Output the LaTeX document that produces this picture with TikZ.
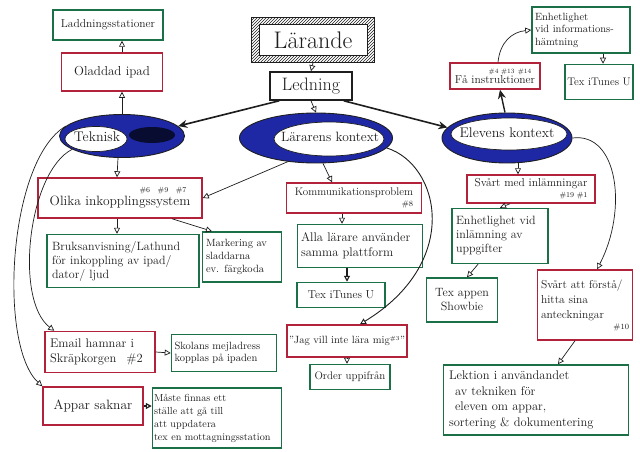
\documentclass[tikz,border=0pt]{standalone}
\usetikzlibrary{arrows.meta,patterns,shapes.geometric}
\definecolor{boxred}{RGB}{178,34,58}
\definecolor{boxgreen}{RGB}{28,112,72}
\definecolor{ovalblue}{RGB}{30,40,165}
\definecolor{ink}{RGB}{30,30,30}
\newcommand\fsz[2]{\fontsize{#1}{#2}\selectfont}
\begin{document}
\begin{tikzpicture}[x=1pt,y=-1pt,
  box/.style={fill=white, line width=1.5pt, inner sep=2pt, text=ink},
  redbox/.style={box, draw=boxred},
  greenbox/.style={box, draw=boxgreen},
  outeroval/.style={ellipse, fill=ovalblue, draw=ink, line width=0.9pt, inner sep=0pt},
  inneroval/.style={ellipse, fill=white, draw=ink, line width=0.7pt, inner sep=0pt},
  ovaltext/.style={inner sep=0pt, text=ink},
  arr/.style={draw=ink, line width=0.7pt, -{Triangle[open, length=6pt, width=6pt]}},
  bigarr/.style={draw=ink, line width=1.6pt, -{Stealth[open, length=9pt, width=8pt]}},
  tag/.style={font=\fsz{7}{8}}
]
\fill[white] (0,0) rectangle (640,452);
\useasboundingbox (0,0) rectangle (640,452);

% ---------- top centre ----------
\node[draw=ink, line width=0.8pt, pattern=north east lines, pattern color=ink,
      minimum width=123, minimum height=45] (lar) at (313,40) {};
\node[draw=ink, fill=white, line width=1pt, minimum width=108, minimum height=31,
      font=\fsz{24}{26}, text=ink] (larin) at (313,40) {Lärande};
\node[draw=ink, fill=white, line width=1.6pt, minimum width=82, minimum height=28,
      font=\fsz{18}{20}, text=ink] (led) at (311,86) {Ledning};

% ---------- ovals ----------
\node[outeroval, minimum width=125, minimum height=43] (tek) at (122,136) {};
\node[inneroval, minimum width=62, minimum height=25] (tekin) at (96,139) {};
\node[ellipse, fill=black!70!ovalblue, inner sep=0pt, minimum width=46, minimum height=16] (tekdark) at (152,135) {};
\node[ovaltext, font=\fsz{14}{16}] (tektxt) at (97,137) {Teknisk};

\node[outeroval, minimum width=153, minimum height=50] (lk) at (316,138) {};
\node[inneroval, minimum width=110, minimum height=34] (lkin) at (329,139) {};
\node[ovaltext, font=\fsz{13.5}{15}] (lktxt) at (330,137) {Lärarens kontext};

\node[outeroval, minimum width=130, minimum height=50] (el) at (507,138) {};
\node[inneroval, minimum width=116, minimum height=32] (elin) at (509,134) {};
\node[ovaltext, font=\fsz{14}{16}] (eltxt) at (507,133) {Elevens kontext};

% ---------- Teknisk branch ----------
\node[greenbox, minimum width=110, minimum height=30, font=\fsz{11.5}{13}] (lad) at (108,25) {Laddningsstationer};
\node[redbox, minimum width=101, minimum height=38, font=\fsz{13}{15}] (olad) at (112,72) {Oladdad ipad};
\node[redbox, minimum width=164, minimum height=40, align=center, font=\fsz{13.5}{13}] (olika) at (120,198)
  {{\fsz{7.5}{8}\hspace*{86pt}\#6\quad\#9\quad\#7}\\Olika inkopplingssystem};
\node[greenbox, minimum width=152, minimum height=53, text width=142, align=left, font=\fsz{12}{14}] (bruks) at (123,261)
  {Bruksanvisning/Lathund\\för inkoppling av ipad/\\dator/ ljud};
\node[greenbox, minimum width=79, minimum height=50, text width=72, align=left, font=\fsz{10.5}{13}] (mark) at (242,257)
  {Markering av\\sladdarna\\ev. färgkoda};
\node[redbox, minimum width=110, minimum height=41, text width=100, align=left, font=\fsz{12.5}{15}] (email) at (100,352)
  {Email hamnar i\\Skräpkorgen\hspace{10pt}\#2};
\node[greenbox, minimum width=105, minimum height=37, text width=99, align=left, font=\fsz{10.5}{12.5}] (skol) at (224,353)
  {Skolans mejladress\\kopplas på ipaden};
\node[redbox, minimum width=100, minimum height=38, font=\fsz{13.5}{15}] (appar) at (93,406) {Appar saknar};
\node[greenbox, minimum width=129, minimum height=60, text width=126, align=left, inner sep=1pt, font=\fsz{10.2}{13}] (maste) at (217,418)
  {Måste finnas ett\\ställe att gå till\\att uppdatera\\tex en mottagningsstation};

% ---------- Lärarens branch ----------
\node[redbox, minimum width=135, minimum height=30, align=right, font=\fsz{11}{11}] (komm) at (354,198)
  {Kommunikationsproblem\\{\fsz{8}{9}\#8}};
\node[greenbox, minimum width=125, minimum height=43, text width=118, align=left, font=\fsz{12.5}{15}] (alla) at (360,246)
  {Alla lärare använder\\samma plattform};
\node[greenbox, minimum width=88, minimum height=25, font=\fsz{11.5}{12}] (tex2) at (341,295) {Tex iTunes U};
\node[redbox, minimum width=115, minimum height=32, font=\fsz{10.5}{12}] (jag) at (347,341)
  {”Jag vill inte lära mig\textsuperscript{\fsz{6}{7}\#3}”};
\node[greenbox, minimum width=80, minimum height=25, font=\fsz{11}{12}] (order) at (350,377) {Order uppifrån};

% ---------- Elevens branch ----------
\node[redbox, minimum width=90, minimum height=26, align=center, font=\fsz{11.5}{10}] (fa) at (495,76)
  {{\fsz{6.5}{7}\hspace*{30pt}\#4 \#13\enspace \#14}\\Få instruktioner};
\node[greenbox, minimum width=98, minimum height=46, text width=92, align=left, font=\fsz{10.5}{12.5}] (enh1) at (581,30)
  {Enhetlighet\\vid informations-\\hämtning};
\node[greenbox, minimum width=68, minimum height=35, font=\fsz{11}{12}] (tex1) at (599,82) {Tex iTunes U};
\node[redbox, minimum width=128, minimum height=28, align=right, font=\fsz{11.5}{11}] (svm) at (531,189)
  {Svårt med inlämningar\\{\fsz{7.5}{8}\#19 \#1}};
\node[greenbox, minimum width=96, minimum height=55, text width=88, align=left, font=\fsz{12}{14}] (enh2) at (500,236)
  {Enhetlighet vid\\inlämning av\\uppgifter};
\node[greenbox, minimum width=71, minimum height=44, align=center, font=\fsz{12}{14}] (showbie) at (462,300)
  {Tex appen\\Showbie};
\node[redbox, minimum width=95, minimum height=70, text width=88, align=left, font=\fsz{11.5}{15}] (svf) at (585,305)
  {Svårt att förstå/\\hitta sina\\anteckningar\\[-4pt]\hspace*{\fill}{\fsz{8}{9}\#10}};
\node[greenbox, minimum width=185, minimum height=70, text width=174, align=left, font=\fsz{12.5}{15.5}] (lek) at (536,400)
  {Lektion i användandet\\\hspace*{6pt}av tekniken för\\\hspace*{6pt}eleven om appar,\\sortering \& dokumentering};

% ---------- connectors ----------
\draw[arr] (lar.south) -- (led.north);
\draw[arr] (led.south) -- (lk.north);
\draw[bigarr] ([xshift=10]led.south west) -- (tek.10);
\draw[bigarr] ([xshift=-9]led.south east) -- (el.170);

\draw[arr] (tek.north) -- ([xshift=10]olad.south);
\draw[arr] ([xshift=10]olad.north) -- ([xshift=14]lad.south);
\draw[arr] ([xshift=-4]tek.south) -- ([xshift=-3]olika.north);
\draw[arr] ([xshift=-3]olika.south) -- ([xshift=-6]bruks.north);
\draw[arr] ([xshift=52]olika.south) -- ([xshift=-30]mark.north);
\draw[arr] (tek.195) .. controls (28,172) and (14,300) .. ([xshift=10]email.north west);
\draw[arr] (tek.170) .. controls (8,160) and (-2,345) .. (appar.north west);
\draw[arr] (email.east) -- (skol.west);
\draw[arr, line width=1.2pt] (appar.east) -- (appar.east -| maste.west);

\draw[arr] (lk.220) -- (olika.east);
\draw[arr] ([xshift=7]lk.south) -- ([xshift=-22]komm.north);
\draw[arr] ([xshift=-12]komm.south) -- ([xshift=-18]alla.north);
\draw[arr, line width=1.1pt] ([xshift=-13]alla.south) -- ([xshift=6]tex2.north);
\draw[arr, line width=0.9pt] (lk.-8) .. controls (440,165) and (462,262) .. ([xshift=13]jag.north);
\draw[arr] (jag.south) -- ([xshift=-3]order.north);

\draw[bigarr, line width=1.4pt] ([xshift=-2]el.north) -- ([xshift=5]fa.south);
\draw[arr] ([xshift=3]fa.north) .. controls (500,42) and (512,32) .. (enh1.west);
\draw[arr] ([xshift=22]enh1.south) -- ([xshift=4]tex1.north);
\draw[arr] ([xshift=11]el.south) -- ([xshift=-13]svm.north);
\draw[arr] ([xshift=-21]svm.south) -- (enh2.north);
\draw[arr] ([xshift=-22]enh2.south) -- ([xshift=5]showbie.north);
\draw[arr] (el.east) .. controls (618,132) and (628,210) .. ([xshift=12]svf.north);
\draw[arr] ([xshift=-10]svf.south) -- ([xshift=22]lek.north);
\end{tikzpicture}
\end{document}
